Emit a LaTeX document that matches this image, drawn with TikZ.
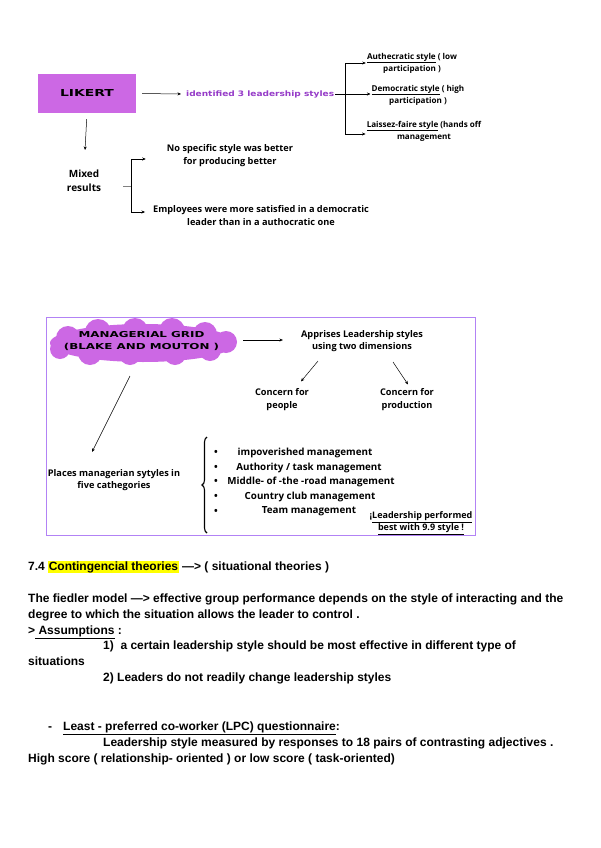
\documentclass[tikz,border=0pt]{standalone}
\usepackage{fontspec}
\setmainfont{Open Sans}
\newfontfamily\notefont{Liberation Sans}
\newfontfamily\widefont{DejaVu Sans}[FakeStretch=1.45]
\newfontfamily\midwidefont{DejaVu Sans}[FakeStretch=1.2]
\usetikzlibrary{arrows.meta,decorations.pathreplacing,calc}
\definecolor{gridViolet}{RGB}{204,104,228}
\definecolor{stylePurple}{RGB}{150,60,200}
\definecolor{frameLavender}{RGB}{178,130,245}
\definecolor{markYellow}{RGB}{255,255,0}

\begin{document}
\begin{tikzpicture}[
  x=1pt, y=-1pt,
  label/.style={align=center, inner sep=1pt, font=\fontsize{9.2}{12.5}\selectfont\bfseries},
  stylelabel/.style={align=center, inner sep=1pt, font=\fontsize{8.1}{12}\selectfont\bfseries},
  item/.style={inner sep=1pt, font=\fontsize{9.8}{12}\selectfont\bfseries},
  heading/.style={inner sep=0pt, font=\widefont\bfseries\fontsize{9.6}{11}\selectfont},
  note/.style={anchor=base west, inner sep=0pt, font=\notefont\bfseries\fontsize{12}{16}\selectfont},
  arrow/.style={-{Stealth[length=3.5pt,width=3pt]}, line width=0.5pt},
  plain/.style={line width=0.5pt}
]
\useasboundingbox[fill=white] (0,0) rectangle (600,848);

% Likert part
\node[heading, fill=gridViolet, minimum width=98pt, minimum height=39pt] (likert) at (87,93.5) {LIKERT};
\node[inner sep=1pt, anchor=west, text=stylePurple, font=\midwidefont\bfseries\fontsize{7.5}{10}\selectfont] (styles) at (185,94) {identified 3 leadership styles};
\node[stylelabel] (autho) at (412,63) {\underline{Authecratic style} ( low\\participation )};
\node[stylelabel] (demo) at (418,95) {\underline{Democratic style} ( high\\participation )};
\node[stylelabel] (laissez) at (424,131) {\underline{Laissez-faire style} (hands off\\management};
\coordinate (stylefork) at (345,94);
\draw[arrow, shorten <=6pt, shorten >=4pt] (likert.east) -- (styles.west);
\draw[plain] (styles.east) -- (stylefork);
\draw[arrow] (stylefork) |- (autho.west);
\draw[arrow] (stylefork) -- (stylefork -| demo.west);
\draw[arrow] (stylefork) |- ([yshift=-3pt]laissez.west);

\node[label, font=\fontsize{10}{14}\selectfont\bfseries] (mixed) at (84,181) {Mixed\\results};
\node[label] (nospec) at (230,155.5) {No specific style was better\\for producing better};
\node[label] (employ) at (261,215.5) {Employees were more satisfied in a democratic\\leader than in a authocratic one};
\coordinate (mixstub) at (123,186);
\coordinate (mixfork) at (131,186);
\draw[arrow, shorten <=6pt, shorten >=19pt] (likert.south) -- (mixed.north);
\draw[plain, gray] (mixstub) -- (mixfork);
\draw[arrow, shorten >=20pt] (mixfork) |- ([yshift=-3.5pt]nospec.west);
\draw[arrow, shorten >=7pt] (mixfork) |- ([yshift=3.5pt]employ.west);

% Managerial grid part
\draw[frameLavender, line width=0.8pt] (46,317) rectangle (475,535);
\fill[gridViolet] (143,343) ellipse [x radius=93, y radius=19]
  (68,338) circle [radius=12] (98,332) circle [radius=13] (135,331) circle [radius=13]
  (172,331) circle [radius=13] (205,334) circle [radius=12] (226,342) circle [radius=11]
  (60,349) circle [radius=10] (90,353) circle [radius=12] (130,354) circle [radius=11]
  (175,354) circle [radius=11] (210,350) circle [radius=11];
\node[heading, align=center, font=\widefont\bfseries\fontsize{8.2}{12}\selectfont] (grid) at (141.5,341) {MANAGERIAL GRID\\(BLAKE AND MOUTON )};
\coordinate (cloudright) at (243,340);
\coordinate (cloudfoot) at (130,376);
\node[label] (apprises) at (362,341) {Apprises Leadership styles\\using two dimensions};
\node[label] (people) at (282,399.5) {Concern for\\people};
\node[label] (production) at (407,399.5) {Concern for\\production};
\node[label] (places) at (114,480) {Places managerian sytyles in\\five cathegories};
\draw[arrow] (cloudright) -- ([xshift=-17pt]apprises.west |- cloudright);
\draw[arrow] ($(apprises.south)+(-44,8)$) -- ($(people.north)+(19,-6)$);
\draw[arrow] ($(apprises.south)+(31,9)$) -- ($(production.north)+(1,-3)$);
\draw[arrow] (cloudfoot) -- ($(places.north)+(-22,-16)$);

\node[item] (impov) at (305,453) {impoverished management};
\node[item] (authority) at (309,468) {Authority / task management};
\node[item] (middle) at (311,482) {Middle- of -the -road management};
\node[item] (country) at (310,497) {Country club management};
\node[item] (team) at (309,511.5) {Team management};
\node[item] (b1) at (216,453) {•};
\node[item] (b2) at (216,468) {•};
\node[item] (b3) at (216,482) {•};
\node[item] (b4) at (216,497) {•};
\node[item] (b5) at (216,511.5) {•};
\draw[decorate, decoration={brace, amplitude=5pt}, line width=1.1pt] (207,533) -- (207,437);
\node[label, font=\fontsize{9}{12}\selectfont\bfseries] (bestnote) at (421,523) {¡\underline{Leadership performed}\\\underline{best with 9.9 style !}};

% Contingency notes
\node[note] (t1) at (28,570) {7.4 {\setlength{\fboxsep}{0.6pt}\colorbox{markYellow}{Contingencial theories}} —> ( situational theories )};
\node[note] (t2) at (28,602) {The fiedler model —> effective group performance depends on the style of interacting and the};
\node[note] (t3) at (28,618) {degree to which the situation allows the leader to control .};
\node[note] (t4) at (28,634) {>\underline{ Assumptions} :};
\node[note] (t5) at (103,649) {1)\ \ a certain leadership style should be most effective in different type of};
\node[note] (t6) at (28,665) {situations};
\node[note] (t7) at (103,681) {2) Leaders do not readily change leadership styles};
\node[note] (dash) at (48,730) {-};
\node[note] (t8) at (63,730) {\underline{Least - preferred co-worker (LPC) questionnaire}:};
\node[note] (t9) at (103,746) {Leadership style measured by responses to 18 pairs of contrasting adjectives .};
\node[note] (t10) at (28,762) {High score ( relationship- oriented ) or low score ( task-oriented)};
\end{tikzpicture}
\end{document}
